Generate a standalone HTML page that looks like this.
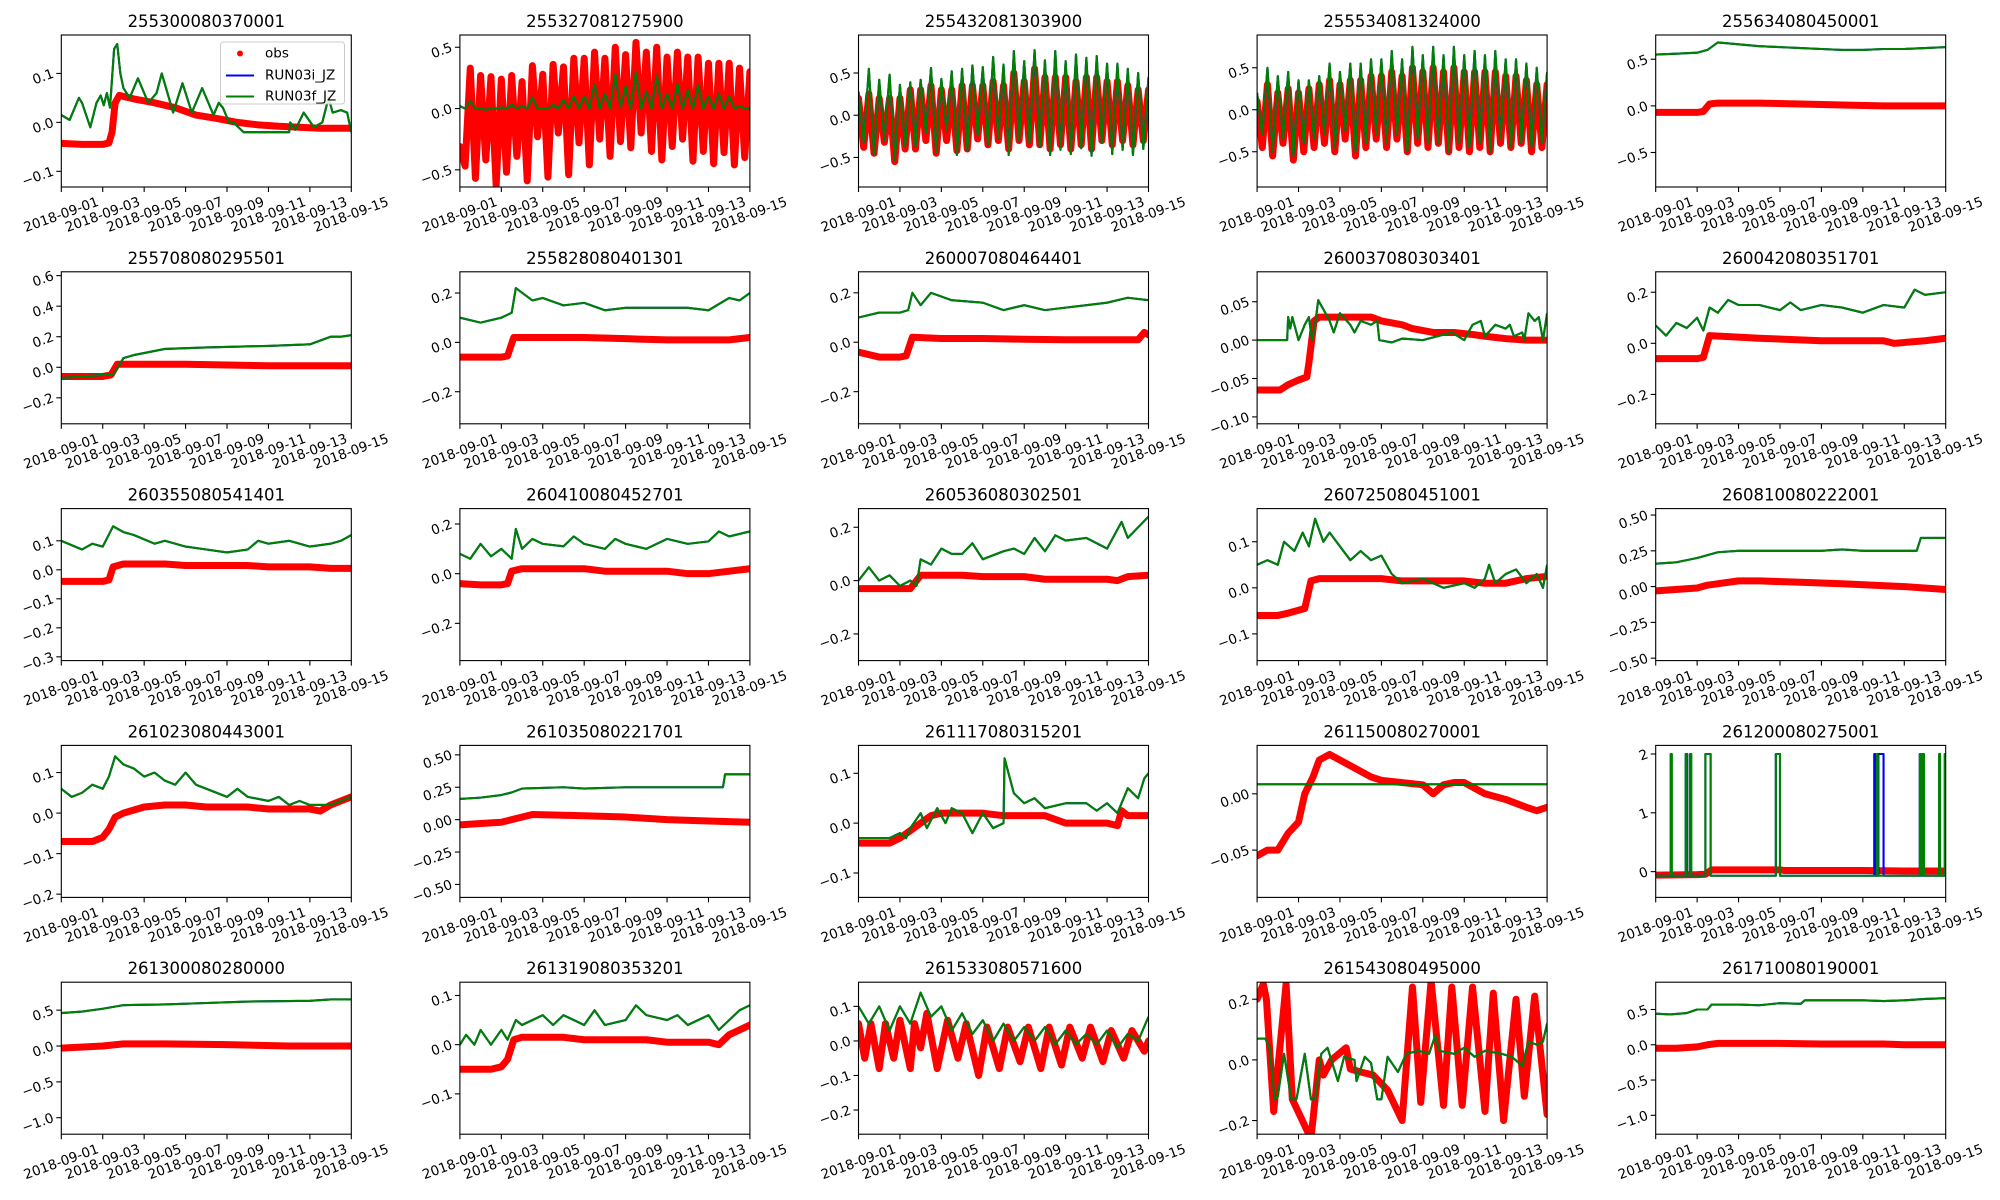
<!DOCTYPE html>
<html><head><meta charset="utf-8"><style>
html,body{margin:0;padding:0;background:#fff;}
svg{display:block;font-family:"DejaVu Sans","Liberation Sans",sans-serif;}
</style></head><body>
<svg id="fig" width="2000" height="1200" viewBox="0 0 2000 1200" xmlns="http://www.w3.org/2000/svg"></svg>
<script>
// ---------- data ----------
const xTickDays = [0,2,4,6,8,10,12,14];
const xTickLabels = ['2018-09-01','2018-09-03','2018-09-05','2018-09-07','2018-09-09','2018-09-11','2018-09-13','2018-09-15'];
const titles = ['255300080370001','255327081275900','255432081303900','255534081324000','255634080450001',
'255708080295501','255828080401301','260007080464401','260037080303401','260042080351701',
'260355080541401','260410080452701','260536080302501','260725080451001','260810080222001',
'261023080443001','261035080221701','261117080315201','261150080270001','261200080275001',
'261300080280000','261319080353201','261533080571600','261543080495000','261710080190001'];

const p01ObsT=[0,1,2,2.3,2.45,2.6,2.8,3.5,4.5,5.5,6.5,7.5,8.5,9.5,10.5,11.5,12.5,14];
const p01ObsV=[-0.043,-0.045,-0.045,-0.042,-0.02,0.04,0.055,0.048,0.04,0.03,0.015,0.008,0.0,-0.005,-0.008,-0.01,-0.012,-0.012];
const p01ModT=[0,0.4,0.85,1.0,1.4,1.7,1.9,2.05,2.2,2.35,2.55,2.7,2.85,3.0,3.3,3.7,4.2,4.6,4.85,5.4,5.85,6.3,6.8,7.35,7.6,7.8,8.1,8.3,8.8,11.0,11.05,11.3,11.7,12.2,12.6,12.9,13.1,13.5,13.8,14];
const p01ModV=[0.015,0.005,0.05,0.04,-0.01,0.04,0.055,0.035,0.06,0.03,0.15,0.16,0.1,0.07,0.05,0.09,0.04,0.06,0.1,0.02,0.08,0.02,0.07,0.015,0.04,0.03,0.0,0.0,-0.02,-0.02,0.0,-0.015,0.02,-0.01,0.0,0.05,0.02,0.025,0.02,-0.02];

const p02ObsV=[-0.31,-0.47,0.33,-0.57,0.27,-0.42,0.26,-0.63,0.24,-0.52,0.27,-0.39,0.22,-0.59,0.35,-0.23,0.28,-0.56,0.36,-0.2,0.34,-0.54,0.41,-0.28,0.41,-0.46,0.46,-0.25,0.41,-0.39,0.5,-0.27,0.44,-0.32,0.54,-0.2,0.46,-0.35,0.5,-0.42,0.42,-0.31,0.46,-0.25,0.42,-0.43,0.42,-0.35,0.37,-0.45,0.37,-0.36,0.37,-0.46,0.33,-0.4,0.3];
const p02ModV=[0.02,0.0,0.06,0.0,0.0,-0.01,0.0,0.0,0.01,0.0,0.03,0.0,0.02,0.0,0.09,0.0,0.0,0.0,0.03,0.0,0.07,0.0,0.1,0.0,0.1,0.0,0.2,0.0,0.12,0.0,0.28,0.01,0.18,0.0,0.3,0.0,0.14,0.0,0.27,0.0,0.12,0.0,0.2,0.0,0.15,0.0,0.19,0.0,0.1,0.0,0.12,0.0,0.1,0.0,0.02,0.0,0.0];

const p03ModV=[0.28,-0.32,0.55,-0.47,0.42,-0.3,0.48,-0.53,0.36,-0.37,0.39,-0.37,0.42,-0.21,0.56,-0.44,0.43,-0.19,0.52,-0.47,0.55,-0.42,0.59,-0.24,0.57,-0.35,0.69,-0.28,0.6,-0.47,0.76,-0.3,0.64,-0.33,0.77,-0.37,0.65,-0.47,0.76,-0.41,0.64,-0.46,0.72,-0.39,0.68,-0.48,0.7,-0.33,0.61,-0.46,0.61,-0.41,0.55,-0.47,0.5,-0.4,0.45];
const p03ObsV=[0.2,-0.38,0.25,-0.45,0.2,-0.32,0.2,-0.55,0.2,-0.4,0.3,-0.4,0.3,-0.3,0.35,-0.45,0.3,-0.3,0.3,-0.42,0.35,-0.4,0.35,-0.28,0.35,-0.35,0.4,-0.3,0.35,-0.4,0.5,-0.3,0.4,-0.35,0.55,-0.35,0.45,-0.4,0.45,-0.35,0.45,-0.4,0.4,-0.35,0.45,-0.4,0.45,-0.3,0.4,-0.35,0.4,-0.3,0.35,-0.35,0.3,-0.3,0.3];

const p04ModV=[0.2,-0.3,0.5,-0.5,0.4,-0.35,0.45,-0.55,0.35,-0.4,0.35,-0.35,0.4,-0.3,0.55,-0.45,0.45,-0.25,0.55,-0.5,0.55,-0.4,0.6,-0.3,0.6,-0.4,0.7,-0.3,0.6,-0.5,0.75,-0.35,0.65,-0.4,0.75,-0.4,0.65,-0.5,0.75,-0.4,0.65,-0.45,0.7,-0.4,0.65,-0.5,0.7,-0.35,0.6,-0.45,0.6,-0.4,0.55,-0.45,0.5,-0.4,0.45];
const p04ObsV=[0.1,-0.45,0.3,-0.55,0.2,-0.4,0.25,-0.6,0.2,-0.5,0.25,-0.45,0.3,-0.4,0.35,-0.5,0.3,-0.35,0.35,-0.55,0.35,-0.45,0.4,-0.35,0.4,-0.45,0.45,-0.35,0.4,-0.5,0.5,-0.4,0.45,-0.45,0.5,-0.4,0.45,-0.5,0.5,-0.45,0.45,-0.5,0.45,-0.45,0.45,-0.5,0.45,-0.4,0.4,-0.45,0.4,-0.4,0.35,-0.5,0.3,-0.45,0.3];

const p05ObsT=[0,1,2,2.3,2.6,3,5,7,9,11,13,14];
const p05ObsV=[-0.07,-0.07,-0.07,-0.06,0.02,0.03,0.03,0.02,0.01,0.0,0.0,0.0];
const p05ModT=[0,1,2,2.5,3,4,5,6,7,8,9,10,11,12,13,14];
const p05ModV=[0.55,0.56,0.57,0.6,0.68,0.66,0.64,0.63,0.62,0.61,0.6,0.6,0.61,0.61,0.62,0.63];

const p06ObsT=[0,1,2,2.4,2.7,4,6,8,10,12,14];
const p06ObsV=[-0.06,-0.06,-0.06,-0.05,0.02,0.02,0.02,0.015,0.01,0.01,0.01];
const p06ModT=[0,1,2,2.5,3,3.5,5,7,10,12,13,13.5,14];
const p06ModV=[-0.07,-0.06,-0.05,-0.05,0.06,0.08,0.12,0.13,0.14,0.15,0.2,0.2,0.21];

const p07ObsT=[0,1,2,2.3,2.6,4,6,8,10,12,13,14];
const p07ObsV=[-0.06,-0.06,-0.06,-0.055,0.02,0.02,0.02,0.015,0.01,0.01,0.01,0.02];
const p07ModT=[0,1,2,2.5,2.7,3.5,4,5,6,7,8,9,10,11,12,13,13.5,14];
const p07ModV=[0.1,0.08,0.1,0.12,0.22,0.17,0.18,0.15,0.16,0.13,0.14,0.14,0.14,0.14,0.13,0.18,0.17,0.2];

const p08ObsT=[0,1,2,2.3,2.6,4,6,8,10,12,13.5,13.8,14];
const p08ObsV=[-0.04,-0.06,-0.06,-0.055,0.02,0.015,0.015,0.012,0.01,0.01,0.01,0.04,0.03];
const p08ModT=[0,1,2,2.4,2.6,3,3.5,4.5,6,7,8,9,10,11,12,13,14];
const p08ModV=[0.1,0.12,0.12,0.13,0.2,0.15,0.2,0.17,0.16,0.13,0.15,0.13,0.14,0.15,0.16,0.18,0.17];

const p09ObsT=[0,1.1,1.5,2,2.4,2.5,2.75,3,5.5,6,7,7.5,8.5,9.5,10.5,11,12,13,14];
const p09ObsV=[-0.065,-0.065,-0.058,-0.052,-0.048,-0.03,0.025,0.03,0.03,0.025,0.02,0.015,0.01,0.01,0.007,0.005,0.002,0.0,0.0];
const p09ModT=[0,1.45,1.5,1.6,1.7,2.0,2.3,2.5,2.65,2.8,2.95,3.2,3.5,3.7,4.0,4.5,4.7,5.0,5.5,5.8,5.9,6.5,7,8,9.4,10,10.4,10.8,11,11.5,12,12.2,12.4,12.8,12.9,13.1,13.4,13.6,13.8,14];
const p09ModV=[0,0,0.03,0.015,0.03,0.0,0.02,0.03,0.0,0.02,0.052,0.04,0.025,0.01,0.035,0.02,0.01,0.025,0.02,0.025,0.0,-0.003,0.002,0.0,0.01,0.0,0.02,0.025,0.005,0.02,0.015,0.02,0.005,0.01,0.0,0.035,0.025,0.03,0.0,0.035];

const p10ObsT=[0,1,2,2.3,2.6,5,8,11,11.5,13,14];
const p10ObsV=[-0.06,-0.06,-0.06,-0.055,0.03,0.02,0.01,0.01,0.0,0.01,0.02];
const p10ModT=[0,0.5,1,1.5,2,2.3,2.6,3,3.5,4,5,6,6.5,7,8,9,10,11,12,12.5,13,14];
const p10ModV=[0.07,0.03,0.08,0.06,0.1,0.05,0.14,0.12,0.17,0.15,0.15,0.13,0.16,0.13,0.15,0.14,0.12,0.15,0.14,0.21,0.19,0.2];

const p11ObsT=[0,1,2,2.3,2.5,3,5,6,9,10,12,13,14];
const p11ObsV=[-0.04,-0.04,-0.04,-0.035,0.01,0.02,0.02,0.015,0.015,0.01,0.01,0.005,0.005];
const p11ModT=[0,1,1.5,2,2.5,3,3.5,4.5,5,6,7,8,9,9.5,10,11,12,13,13.5,14];
const p11ModV=[0.1,0.07,0.09,0.08,0.15,0.13,0.12,0.09,0.1,0.08,0.07,0.06,0.07,0.1,0.09,0.1,0.08,0.09,0.1,0.12];

const p12ObsT=[0,1,2,2.3,2.5,3,6,7,10,11,12,13,14];
const p12ObsV=[-0.04,-0.045,-0.045,-0.04,0.01,0.02,0.02,0.01,0.01,0.0,0.0,0.01,0.02];
const p12ModT=[0,0.5,1,1.5,2,2.5,2.7,3,3.5,4,5,5.5,6,7,7.5,8,9,10,11,12,12.5,13,14];
const p12ModV=[0.08,0.06,0.12,0.07,0.1,0.06,0.18,0.1,0.14,0.12,0.11,0.15,0.12,0.1,0.14,0.12,0.1,0.14,0.12,0.13,0.17,0.15,0.17];

const p13ObsT=[0,1.5,2.5,2.8,3,5,6,8,9,12,12.5,13,14];
const p13ObsV=[-0.03,-0.03,-0.03,0.0,0.02,0.02,0.015,0.015,0.005,0.005,0.0,0.015,0.02];
const p13ModT=[0,0.5,1,1.5,2,2.5,2.8,3,3.5,4,4.5,5,5.5,6,7,7.5,8,8.5,9,9.5,10,11,12,12.7,13,14];
const p13ModV=[0.0,0.05,0.0,0.02,-0.02,0.0,-0.02,0.08,0.06,0.12,0.1,0.1,0.14,0.08,0.11,0.12,0.1,0.16,0.11,0.17,0.15,0.16,0.12,0.22,0.16,0.24];

const p14ObsT=[0,1,1.5,2.3,2.6,3,6,7,10,11,12,13,14];
const p14ObsV=[-0.06,-0.06,-0.055,-0.045,0.015,0.02,0.02,0.015,0.015,0.01,0.01,0.02,0.025];
const p14ModT=[0,0.5,1,1.3,1.8,2.2,2.5,2.8,3.2,3.5,4,4.5,5,5.5,6,6.5,7,8,9,10,10.5,11,11.2,11.5,12,12.5,13,13.5,13.8,14];
const p14ModV=[0.05,0.06,0.05,0.1,0.08,0.12,0.09,0.15,0.1,0.12,0.09,0.06,0.08,0.06,0.07,0.03,0.01,0.02,0.0,0.01,0.0,0.02,0.05,0.01,0.03,0.04,0.01,0.03,0.0,0.05];

const p15ObsT=[0,2,2.5,4,5,7,9,12,14];
const p15ObsV=[-0.03,-0.01,0.01,0.04,0.04,0.03,0.02,0.0,-0.02];
const p15ModT=[0,1,2,2.5,3,4,8,9,10,12.6,12.8,14];
const p15ModV=[0.16,0.17,0.2,0.22,0.24,0.25,0.25,0.26,0.25,0.25,0.34,0.34];

const p16ObsT=[0,1.5,2,2.3,2.6,3,4,5,6,7,9,10,12,12.5,13,14];
const p16ObsV=[-0.07,-0.07,-0.06,-0.04,-0.01,0.0,0.015,0.02,0.02,0.015,0.015,0.01,0.01,0.005,0.02,0.04];
const p16ModT=[0,0.5,1,1.5,2,2.3,2.6,3,3.5,4,4.5,5,5.5,6,6.5,7,8,8.5,9,10,10.5,11,11.5,12,13,13.5,14];
const p16ModV=[0.06,0.04,0.05,0.07,0.06,0.09,0.14,0.12,0.11,0.09,0.1,0.08,0.07,0.1,0.07,0.06,0.04,0.06,0.04,0.03,0.04,0.02,0.03,0.02,0.02,0.03,0.04];

const p17ObsT=[0,1,2,2.5,3.5,6,8,10,12,14];
const p17ObsV=[-0.04,-0.03,-0.02,0.0,0.04,0.03,0.02,0.0,-0.01,-0.02];
const p17ModT=[0,1,2,2.5,3,5,6,8,12.7,12.8,14];
const p17ModV=[0.16,0.17,0.19,0.21,0.24,0.25,0.24,0.25,0.25,0.35,0.35];

const p18ObsT=[0,1.5,2,2.5,3,3.5,4,6,7,9,10,12,12.5,12.7,13,14];
const p18ObsV=[-0.04,-0.04,-0.03,-0.015,0.0,0.015,0.02,0.02,0.015,0.015,0.0,0.0,-0.005,0.025,0.015,0.015];
const p18ModT=[0,1.5,2,2.3,2.5,3,3.3,3.8,4.2,4.5,5,5.5,6,6.5,7,7.05,7.5,8,8.5,9,10,11,11.5,12,12.5,13,13.5,13.8,14];
const p18ModV=[-0.03,-0.03,-0.02,-0.03,-0.01,0.02,-0.01,0.03,0.0,0.03,0.02,-0.02,0.02,-0.01,0.0,0.13,0.06,0.04,0.05,0.03,0.04,0.04,0.025,0.04,0.02,0.07,0.05,0.09,0.1];

const p19ObsT=[0,0.5,1,1.5,2,2.3,2.7,3,3.5,4,4.5,5,5.5,6,7,8,8.5,9,9.5,10,10.5,11,12,13,13.5,14];
const p19ObsV=[-0.055,-0.05,-0.05,-0.035,-0.025,0.0,0.015,0.03,0.035,0.03,0.025,0.02,0.015,0.012,0.01,0.008,0.0,0.008,0.01,0.01,0.005,0.0,-0.005,-0.012,-0.015,-0.012];
const p19ModT=[0,14];
const p19ModV=[0.0085,0.0085];

const p20ObsT=[0,1,2,2.4,2.7,4,6,6.2,8,10,12,14];
const p20ObsV=[-0.06,-0.055,-0.05,-0.045,0.03,0.03,0.03,0.02,0.02,0.02,0.01,0.01];
const p20Base=-0.07, p20Peak=2;
const p20GreenOn =[0.72,1.45,1.65,2.4,5.8,10.68,12.75,12.85,13.68,13.95];
const p20GreenOff=[0.78,1.5,1.72,2.65,6.0,10.72,12.8,12.95,13.73,14.0];
const p20BlueOn =[1.45,2.4,5.8,10.55,10.75,12.75];
const p20BlueOff=[1.52,2.65,6.0,10.6,11.0,12.8];

const p21ObsT=[0,2,3,5,8,11,14];
const p21ObsV=[-0.03,0.0,0.03,0.03,0.02,0.0,0.0];
const p21ModT=[0,1,2,3,5,7,9,12,13,14];
const p21ModV=[0.46,0.48,0.52,0.57,0.58,0.6,0.62,0.63,0.65,0.65];

const p22ObsT=[0,1.5,2,2.3,2.6,3,5,6,9,10,12,12.5,13,14];
const p22ObsV=[-0.05,-0.05,-0.045,-0.03,0.01,0.015,0.015,0.01,0.01,0.005,0.005,0.0,0.02,0.04];
const p22ModT=[0,0.3,0.7,1,1.5,2,2.3,2.7,3,4,4.5,5,6,6.5,7,8,8.5,9,10,10.5,11,12,12.5,13,13.5,14];
const p22ModV=[0.0,0.02,0.0,0.03,0.0,0.03,0.01,0.05,0.04,0.06,0.04,0.06,0.04,0.07,0.04,0.05,0.08,0.06,0.05,0.06,0.04,0.06,0.03,0.05,0.07,0.08];

const p23ObsT=[0,0.3,0.6,1.0,1.3,1.7,2,2.5,2.7,3,3.3,3.8,4.3,4.8,5.2,5.8,6.2,6.8,7.2,7.8,8.2,8.8,9.2,9.8,10.2,10.8,11.2,11.8,12.2,12.8,13.2,13.8,14];
const p23ObsV=[0.05,-0.05,0.05,-0.08,0.05,-0.05,0.06,-0.08,0.05,-0.02,0.08,-0.08,0.06,-0.05,0.05,-0.1,0.04,-0.08,0.04,-0.06,0.04,-0.08,0.04,-0.07,0.04,-0.05,0.04,-0.06,0.03,-0.05,0.03,-0.03,0.0];
const p23ModT=[0,0.5,1,1.5,2,2.5,3,3.5,4,4.5,5,5.5,6,6.5,7,7.5,8,8.5,9,9.5,10,10.5,11,11.5,12,12.5,13,13.5,14];
const p23ModV=[0.1,0.05,0.1,0.03,0.1,0.05,0.14,0.07,0.1,0.03,0.08,0.02,0.06,0.0,0.05,0.0,0.04,0.0,0.04,-0.01,0.03,-0.01,0.02,-0.01,0.03,-0.02,0.02,0.0,0.07];

const p24ObsT=[0,0.3,0.45,0.8,1.4,1.7,2.6,3,3.2,3.6,4.3,4.5,5.0,5.6,6.3,7.0,7.5,7.9,8.4,9.0,9.4,9.9,10.4,11.0,11.4,11.9,12.5,12.9,13.4,14];
const p24ObsV=[0.2,0.25,0.2,-0.17,0.25,-0.13,-0.26,0.0,-0.05,0.0,0.04,-0.03,-0.04,-0.05,-0.1,-0.2,0.24,-0.14,0.26,-0.15,0.24,-0.15,0.24,-0.17,0.22,-0.2,0.2,-0.12,0.21,-0.18];
const p24ModT=[0,0.4,0.6,0.85,1.0,1.3,1.65,1.9,2.3,2.6,2.8,3.1,3.4,3.9,4.2,4.7,4.8,5.2,5.5,5.8,6.0,6.3,6.8,7.2,7.8,8.3,8.6,8.8,9.5,10,10.5,11,11.8,12.3,12.8,13.1,13.5,13.8,14];
const p24ModV=[0.07,0.07,0.04,-0.13,-0.12,0.02,-0.13,-0.13,0.02,-0.13,-0.13,0.02,0.04,-0.07,0.01,0.0,-0.07,0.01,-0.01,-0.13,-0.13,0.01,-0.04,0.02,0.03,0.02,0.08,0.03,0.02,0.04,0.01,0.03,0.02,0.01,-0.02,0.06,0.05,0.06,0.12];

const p25ObsT=[0,1,2,2.5,3,6,8,11,12,14];
const p25ObsV=[-0.05,-0.05,-0.03,0.0,0.02,0.02,0.01,0.01,0.0,0.0];
const p25ModT=[0,0.7,1.5,2,2.5,2.7,4,5,6,7,7.2,10,11,12,13,14];
const p25ModV=[0.44,0.43,0.45,0.5,0.5,0.57,0.57,0.56,0.59,0.58,0.63,0.63,0.62,0.63,0.65,0.66];

const yTicks = [
 [-0.1,0,0.1],[-0.5,0,0.5],[-0.5,0,0.5],[-0.5,0,0.5],[-0.5,0,0.5],
 [-0.2,0,0.2,0.4,0.6],[-0.2,0,0.2],[-0.2,0,0.2],[-0.1,-0.05,0,0.05],[-0.2,0,0.2],
 [-0.3,-0.2,-0.1,0,0.1],[-0.2,0,0.2],[-0.2,0,0.2],[-0.1,0,0.1],[-0.5,-0.25,0,0.25,0.5],
 [-0.2,-0.1,0,0.1],[-0.5,-0.25,0,0.25,0.5],[-0.1,0,0.1],[-0.05,0],[0,1,2],
 [-1,-0.5,0,0.5],[-0.1,0,0.1],[-0.2,-0.1,0,0.1],[-0.2,0,0.2],[-1,-0.5,0,0.5]];
const yDecimals = [1,1,1,1,1, 1,1,1,2,1, 1,1,1,1,2, 1,2,1,2,0, 1,1,1,1,1];
const yLims = [
 [-0.132,0.1785],[-0.64,0.6],[-0.85,0.95],[-0.92,0.89],[-0.87,0.76],
 [-0.37,0.625],[-0.33,0.286],[-0.33,0.285],[-0.109,0.089],[-0.315,0.28],
 [-0.313,0.211],[-0.35,0.262],[-0.3,0.27],[-0.158,0.172],[-0.517,0.545],
 [-0.208,0.167],[-0.6,0.573],[-0.149,0.156],[-0.092,0.043],[-0.438,2.146],
 [-1.23,0.89],[-0.182,0.127],[-0.27,0.17],[-0.245,0.256],[-1.268,0.887]];

// ---------- build ----------
function spikes(on, off, base, peak){
  const t=[0], v=[base];
  for(let i=0;i<on.length;i++){ t.push(on[i],on[i],off[i],off[i]); v.push(base,peak,peak,base); }
  t.push(14); v.push(base);
  return [t,v];
}
const p20G = spikes(p20GreenOn,p20GreenOff,p20Base,p20Peak);
const p20B = spikes(p20BlueOn,p20BlueOff,p20Base,p20Peak);

const series = [
 [p01ObsT,p01ObsV,p01ModT,p01ModV,p01ModT,p01ModV],
 [null,p02ObsV,null,p02ModV,null,p02ModV],
 [null,p03ObsV,null,p03ModV,null,p03ModV],
 [null,p04ObsV,null,p04ModV,null,p04ModV],
 [p05ObsT,p05ObsV,p05ModT,p05ModV,p05ModT,p05ModV],
 [p06ObsT,p06ObsV,p06ModT,p06ModV,p06ModT,p06ModV],
 [p07ObsT,p07ObsV,p07ModT,p07ModV,p07ModT,p07ModV],
 [p08ObsT,p08ObsV,p08ModT,p08ModV,p08ModT,p08ModV],
 [p09ObsT,p09ObsV,p09ModT,p09ModV,p09ModT,p09ModV],
 [p10ObsT,p10ObsV,p10ModT,p10ModV,p10ModT,p10ModV],
 [p11ObsT,p11ObsV,p11ModT,p11ModV,p11ModT,p11ModV],
 [p12ObsT,p12ObsV,p12ModT,p12ModV,p12ModT,p12ModV],
 [p13ObsT,p13ObsV,p13ModT,p13ModV,p13ModT,p13ModV],
 [p14ObsT,p14ObsV,p14ModT,p14ModV,p14ModT,p14ModV],
 [p15ObsT,p15ObsV,p15ModT,p15ModV,p15ModT,p15ModV],
 [p16ObsT,p16ObsV,p16ModT,p16ModV,p16ModT,p16ModV],
 [p17ObsT,p17ObsV,p17ModT,p17ModV,p17ModT,p17ModV],
 [p18ObsT,p18ObsV,p18ModT,p18ModV,p18ModT,p18ModV],
 [p19ObsT,p19ObsV,p19ModT,p19ModV,p19ModT,p19ModV],
 [p20ObsT,p20ObsV,p20G[0],p20G[1],p20B[0],p20B[1]],
 [p21ObsT,p21ObsV,p21ModT,p21ModV,p21ModT,p21ModV],
 [p22ObsT,p22ObsV,p22ModT,p22ModV,p22ModT,p22ModV],
 [p23ObsT,p23ObsV,p23ModT,p23ModV,p23ModT,p23ModV],
 [p24ObsT,p24ObsV,p24ModT,p24ModV,p24ModT,p24ModV],
 [p25ObsT,p25ObsV,p25ModT,p25ModV,p25ModT,p25ModV]];

const NS='http://www.w3.org/2000/svg';
const svg=document.getElementById('fig');
function mk(tag, attrs, parent){
  const e=document.createElementNS(NS,tag);
  for(const k in attrs) e.setAttribute(k,attrs[k]);
  (parent||svg).appendChild(e); return e;
}
const AX_L=61.3, AX_T=35, COL=398.6, ROW=236.8, W=290, H=152;
const fmt=(v,d)=>{const s=Math.abs(v).toFixed(d); return (v<0?'\u2212':'')+s;};

titles.forEach((title, idx)=>{
  const r=Math.floor(idx/5), c=idx%5;
  const L=AX_L+c*COL, T=AX_T+r*ROW;
  const yl=yLims[idx];
  const sx=t=>L+t/14*W;
  const sy=v=>T+(yl[1]-v)/(yl[1]-yl[0])*H;
  const g=mk('g',{});
  
  
  const cp=mk('clipPath',{id:'cp'+idx},g);
  mk('rect',{x:L,y:T,width:W,height:H},cp);
  const plot=mk('g',{'clip-path':'url(#cp'+idx+')'},g);
  const s=series[idx];
  function pts(tArr,vArr){
    return vArr.map((v,i)=>{const t=tArr?tArr[i]:i*14/(vArr.length-1); return sx(t).toFixed(2)+','+sy(v).toFixed(2);}).join(' ');
  }
  const obs=mk('polyline',{points:pts(s[0],s[1]),fill:'none',stroke:'#ff0000','stroke-width':7,'stroke-linecap':'round','stroke-linejoin':'round'},plot);
  
  
  const blue=mk('polyline',{points:pts(s[4],s[5]),fill:'none',stroke:'#0000ff','stroke-width':2.1,'stroke-linejoin':'round'},plot);
  
  
  const green=mk('polyline',{points:pts(s[2],s[3]),fill:'none',stroke:'#008000','stroke-width':2.1,'stroke-linejoin':'round'},plot);
  
  
  const frame=mk('rect',{x:L,y:T,width:W,height:H,fill:'none',stroke:'#000','stroke-width':1.1},g);
  
  
  const tt=mk('text',{x:L+W/2,y:T-8,'text-anchor':'middle','font-size':16.5,fill:'#000'},g);
  tt.textContent=title;
  
  
  // x ticks
  xTickDays.forEach((d,i)=>{
    const x=sx(d);
    mk('line',{x1:x,y1:T+H,x2:x,y2:T+H+5,stroke:'#000','stroke-width':1.1},g);
    const lb=mk('text',{x:x,y:T+H+28,'text-anchor':'middle','dominant-baseline':'central','font-size':13.5,fill:'#000',transform:'rotate(-20 '+x+' '+(T+H+28)+')'},g);
    lb.textContent=xTickLabels[i];
    
    
  });
  // y ticks
  yTicks[idx].forEach(v=>{
    const y=sy(v);
    mk('line',{x1:L-5,y1:y,x2:L,y2:y,stroke:'#000','stroke-width':1.1},g);
    const lx=L-8;
    const lb=mk('text',{x:lx,y:y,'text-anchor':'end','dominant-baseline':'central','font-size':13.5,fill:'#000',transform:'rotate(-20 '+lx+' '+y+')'},g);
    lb.textContent=fmt(v,yDecimals[idx]);
    
    
  });
});

// legend on first subplot
const lg=mk('g',{});


mk('rect',{x:220.5,y:42,width:124,height:62,rx:3,fill:'#fff','fill-opacity':0.85,stroke:'#cccccc','stroke-width':1},lg);
mk('circle',{cx:240,cy:53.5,r:3,fill:'#ff0000'},lg);
mk('line',{x1:226,y1:75.5,x2:254,y2:75.5,stroke:'#0000ff','stroke-width':2.1},lg);
mk('line',{x1:226,y1:96.5,x2:254,y2:96.5,stroke:'#008000','stroke-width':2.1},lg);
const legLabels=['obs','RUN03i_JZ','RUN03f_JZ'], legY=[53.5,75.5,96.5];
legLabels.forEach((s,i)=>{
  const t=mk('text',{x:265,y:legY[i],'dominant-baseline':'central','font-size':13.5,fill:'#000'},lg);
  t.textContent=s;
  
  
});
</script>
</body></html>
